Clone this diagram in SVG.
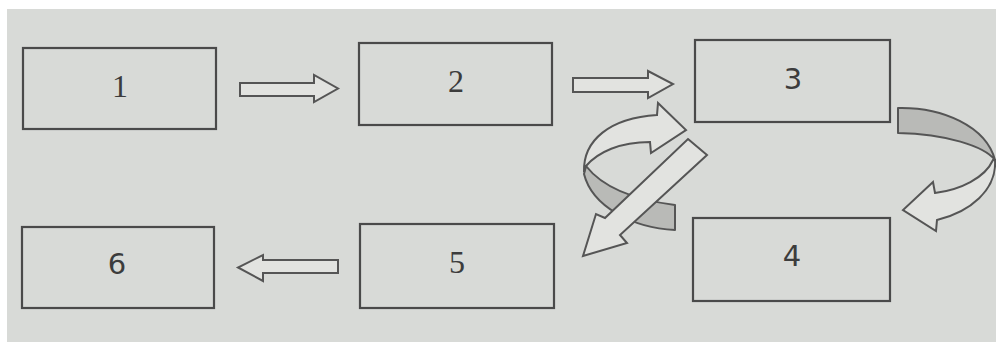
<svg xmlns="http://www.w3.org/2000/svg" width="996" height="343" viewBox="0 0 996 343">
<style>
.box{fill:none;stroke:#4a4a4a;stroke-width:2.2}
.ser{font-family:"Liberation Serif","DejaVu Serif",serif;font-size:32px;fill:#3c3c3c;text-anchor:middle}
.san{font-family:"DejaVu Sans","Liberation Sans",sans-serif;font-size:29px;fill:#3c3c3c;text-anchor:middle}
.arr{fill:#e2e3e0;stroke:#555;stroke-width:2;stroke-linejoin:miter}
.gry{fill:#b9bab7;stroke:#555;stroke-width:2;stroke-linejoin:round}
</style>
<rect x="0" y="0" width="996" height="343" fill="#ffffff"/>
<rect x="7" y="9" width="989" height="333" fill="#d8dad7"/>
<g id="node1"><rect class="box" x="23" y="48" width="193" height="81"/><text class="ser" x="120" y="97">1</text></g>
<g id="node2"><rect class="box" x="359" y="43" width="193" height="82"/><text class="ser" x="456" y="92">2</text></g>
<g id="node3"><rect class="box" x="695" y="40" width="195" height="82"/><text class="san" x="793" y="89">3</text></g>
<g id="node4"><rect class="box" x="693" y="218" width="197" height="83"/><text class="san" x="792" y="266">4</text></g>
<g id="node5"><rect class="box" x="360" y="224" width="194" height="84"/><text class="ser" x="457" y="273">5</text></g>
<g id="node6"><rect class="box" x="22" y="227" width="192" height="81"/><text class="san" x="117" y="274">6</text></g>
<g id="connectors">
<path class="arr" d="M240,83 L314,83 L314,75 L338,88.5 L314,102 L314,96 L240,96 Z"/>
<path class="arr" d="M573,78 L648,78 L648,71 L673,84 L648,98 L648,92 L573,92 Z"/>
<path class="arr" d="M338,260 L263,260 L263,255 L238,267.5 L263,281 L263,273 L338,273 Z"/>
<path class="gry" d="M586,166 C600,184 628,199 675,205 L675,230 C632,228 592,206 584,174 Z"/>
<path class="arr" d="M584,172 C583,140 610,118 657,115 L658,103 L686,130 L651,153 L650,142 C620,142 598,152 586,166 Z"/>
<path class="arr" d="M688,139 L707,155 L620,235 L627,243 L583,256 L596,214 L605,218 Z"/>
<path class="gry" d="M898,108 C942,107 986,126 995,160 C984,146 946,134 898,133 Z"/>
<path class="arr" d="M995,160 C997,190 970,212 937,220 L936,231 L903,210 L933,182 L935,193 C960,190 985,178 993,160 Z"/>
</g>
</svg>
